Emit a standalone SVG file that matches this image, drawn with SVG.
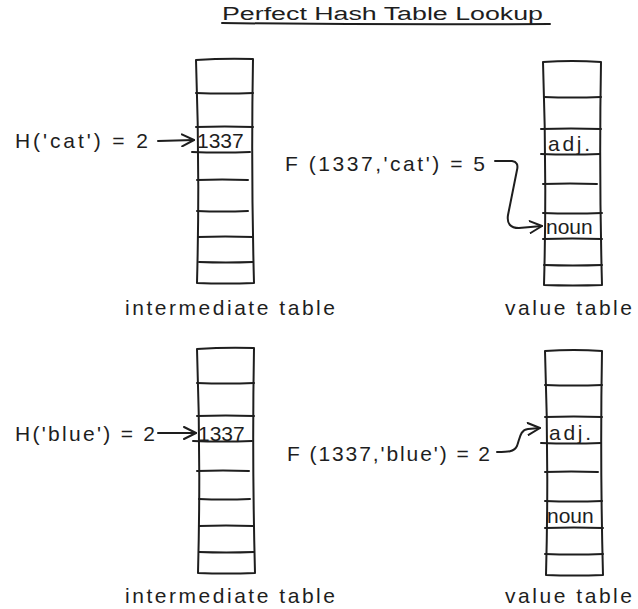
<svg xmlns="http://www.w3.org/2000/svg" width="638" height="609" viewBox="0 0 638 609">
<style>
.s{fill:none;stroke:#1e1e1e;stroke-width:2;stroke-linecap:round;stroke-linejoin:round}
.t{font-family:"Liberation Sans",Arial,sans-serif;font-size:21px;fill:#1e1e1e}
.ti{font-family:"Liberation Sans",Arial,sans-serif;font-size:18px;fill:#1e1e1e}
</style>
<defs>
<marker id="arrow" markerUnits="userSpaceOnUse" viewBox="0 0 14 14" markerWidth="14" markerHeight="14" refX="13" refY="7" orient="auto">
<path d="M1,1 L13,7 L1,13" fill="none" stroke="#1e1e1e" stroke-width="2" stroke-linecap="round" stroke-linejoin="round"/>
</marker>
</defs>
<rect width="638" height="609" fill="#ffffff"/>

<g id="title">
<text class="ti" x="222" y="20" textLength="321" lengthAdjust="spacingAndGlyphs">Perfect Hash Table Lookup</text>
<path class="s" d="M222,23 Q386,25 550,24"/>
</g>

<g id="intermediate-table-1">
<path class="s" d="M196,60 Q225,58 253,59 Q251,170 254,283 Q225,284 197,283 Q200,170 196,60 Z"/>
<path class="s" d="M196,93 Q225,94 253,93 M196,127 Q225,126 253,127 M192,152 Q221,153 250,152 M197,180 Q222,179 248,180 M197,211 Q222,212 248,211 M198,237 Q225,236 253,237 M199,262 Q226,263 253,262"/>
<text class="t" x="197" y="148">1337</text>
<text class="t" x="125" y="315" textLength="210">intermediate table</text>
</g>

<g id="value-table-1">
<path class="s" d="M543,62 Q572,60 601,62 Q599,175 602,285 Q573,286 544,285 Q547,175 543,62 Z"/>
<path class="s" d="M544,97 Q572,98 601,97 M541,129 Q571,128 601,129 M541,154 Q570,155 600,154 M543,184 Q570,183 597,184 M543,213 Q572,214 602,213 M543,239 Q572,238 602,239 M544,265 Q573,266 602,265"/>
<text class="t" x="548" y="151" textLength="42">adj.</text>
<text class="t" x="546" y="234">noun</text>
<text class="t" x="505" y="315" textLength="127">value table</text>
</g>

<g id="hash-cat">
<text class="t" x="15" y="148" textLength="133">H('cat') = 2</text>
</g>
<g id="f-cat">
<text class="t" x="285" y="171" textLength="200">F (1337,'cat') = 5</text>
</g>

<g id="intermediate-table-2">
<path class="s" d="M197,349 Q226,347 254,348 Q252,460 255,573 Q226,574 198,573 Q201,460 197,349 Z"/>
<path class="s" d="M197,383 Q226,384 254,383 M197,416 Q226,415 254,416 M193,441 Q222,442 252,441 M197,471 Q223,470 249,471 M199,499 Q224,500 250,499 M199,526 Q226,525 253,526 M199,552 Q226,553 254,552"/>
<text class="t" x="198" y="441">1337</text>
<text class="t" x="125" y="603" textLength="210">intermediate table</text>
</g>

<g id="value-table-2">
<path class="s" d="M545,351 Q574,349 602,351 Q600,463 603,575 Q574,576 546,575 Q549,463 545,351 Z"/>
<path class="s" d="M545,385 Q574,386 602,385 M545,417 Q574,416 602,417 M541,443 Q571,444 601,443 M545,472 Q571,471 598,472 M545,501 Q573,502 602,501 M545,528 Q574,527 603,528 M545,554 Q574,555 603,554"/>
<text class="t" x="549" y="440" textLength="42">adj.</text>
<text class="t" x="547" y="523">noun</text>
<text class="t" x="505" y="603" textLength="127">value table</text>
</g>

<g id="hash-blue">
<text class="t" x="15" y="441" textLength="140">H('blue') = 2</text>
</g>
<g id="f-blue">
<text class="t" x="287" y="461" textLength="203">F (1337,'blue') = 2</text>
</g>

<g id="connectors">
<path class="s" d="M158,141 L194,140" marker-end="url(#arrow)"/>
<path class="s" d="M495,161 L512,161 Q519,162 517,170 L508,215 Q506,228 519,228 L542,226" marker-end="url(#arrow)"/>
<path class="s" d="M158,433 L196,433" marker-end="url(#arrow)"/>
<path class="s" d="M497,452 C508,452 514,452 517,446 C520,438 520,430 528,429 L540,428" marker-end="url(#arrow)"/>
</g>
</svg>
